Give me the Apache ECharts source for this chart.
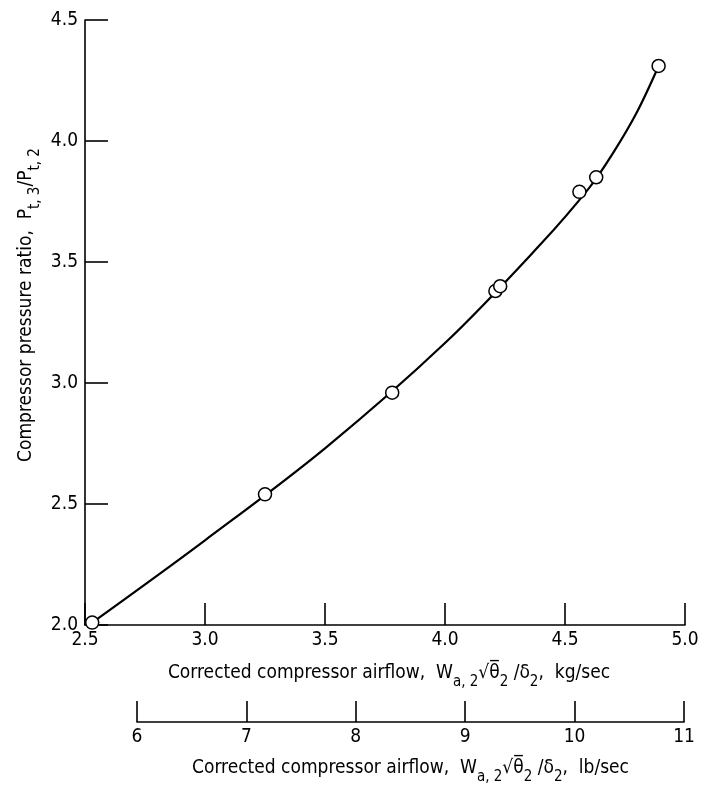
<!DOCTYPE html>
<html>
<head>
<meta charset="utf-8">
<script src="https://cdn.jsdelivr.net/npm/echarts@6/dist/echarts.min.js"></script>
<style>html,body{margin:0;padding:0;background:#fff;}#chart{width:705px;height:793px;}</style>
</head>
<body>
<div id="chart"></div>
<script>
// Measured data points (kg/sec, pressure ratio)
var pointsX = [2.53, 3.25, 3.78, 4.21, 4.23, 4.56, 4.63, 4.89];
var pointsY = [2.01, 2.54, 2.96, 3.38, 3.40, 3.79, 3.85, 4.31];
// Faired curve
var curveX = [2.53, 3.0, 3.5, 4.0, 4.4, 4.6, 4.7, 4.8, 4.89];
var curveY = [2.01, 2.35, 2.73, 3.165, 3.575, 3.805, 3.95, 4.12, 4.31];
// Axis ticks
var kgTicks = [2.5, 3.0, 3.5, 4.0, 4.5, 5.0];
var lbTicks = [6, 7, 8, 9, 10, 11];
var ratioTicks = [2.0, 2.5, 3.0, 3.5, 4.0, 4.5];

var FONT = "'Liberation Sans Narrow', 'DejaVu Sans Condensed', 'Roboto', sans-serif";
var chart = echarts.init(document.getElementById('chart'), null, {renderer: 'canvas'});

function zip(a, b) { return a.map(function (v, i) { return [v, b[i]]; }); }

var sub = {fontFamily: FONT, fontSize: 15, color: '#000', verticalAlign: 'bottom', padding: [0, 0, -7, 0]};
var base = {fontFamily: FONT, fontSize: 19, color: '#000'};

function xTitle(unit) {
  return {
    text: '{b|Corrected compressor airflow,  W}{s|a, 2}{b|\u221A\u03B8\u0305}{s|2}{b| /\u03B4}{s|2}{b|,  ' + unit + '}',
    rich: {b: base, s: sub}
  };
}

var kgT = xTitle('kg/sec');
var lbT = xTitle('lb/sec');

var option = {
  backgroundColor: '#fff',
  animation: false,
  grid: [
    {left: 85, top: 20, width: 600, height: 605, containLabel: false},
    {left: 137, top: 700, width: 547, height: 22, containLabel: false}
  ],
  xAxis: [
    {
      type: 'value', gridIndex: 0, min: kgTicks[0], max: kgTicks[kgTicks.length - 1], interval: 0.5,
      axisLine: {lineStyle: {color: '#000', width: 1.6}},
      axisTick: {inside: true, length: 22, lineStyle: {color: '#000', width: 1.6}},
      splitLine: {show: false},
      axisLabel: {margin: 6, fontFamily: FONT, fontSize: 19, color: '#000',
        formatter: function (v) { return v.toFixed(1); }},
      name: kgT.text, nameLocation: 'middle', nameGap: 39,
      nameTextStyle: {rich: kgT.rich, fontFamily: FONT, fontSize: 19, color: '#000', padding: [0, 0, 0, 8]}
    },
    {
      type: 'value', gridIndex: 1, min: lbTicks[0], max: lbTicks[lbTicks.length - 1], interval: 1,
      position: 'bottom',
      axisLine: {lineStyle: {color: '#000', width: 1.6}},
      axisTick: {inside: true, length: 21, lineStyle: {color: '#000', width: 1.6}},
      splitLine: {show: false},
      axisLabel: {margin: 6, fontFamily: FONT, fontSize: 19, color: '#000'},
      name: lbT.text, nameLocation: 'middle', nameGap: 37,
      nameTextStyle: {rich: lbT.rich, fontFamily: FONT, fontSize: 19, color: '#000'}
    }
  ],
  yAxis: [
    {
      type: 'value', gridIndex: 0, min: ratioTicks[0], max: ratioTicks[ratioTicks.length - 1], interval: 0.5,
      axisLine: {lineStyle: {color: '#000', width: 1.6}},
      axisTick: {inside: true, length: 23, lineStyle: {color: '#000', width: 1.6}},
      splitLine: {show: false},
      axisLabel: {margin: 7, fontFamily: FONT, fontSize: 19, color: '#000',
        formatter: function (v) { return v.toFixed(1); }}
    },
    {type: 'value', gridIndex: 1, show: false, min: 0, max: 1}
  ],
  graphic: [
    {
      type: 'text', x: 26, y: 305, rotation: Math.PI / 2,
      style: {
        text: '{b|Compressor pressure ratio,  P}{s|t, 3}{b|/P}{s|t, 2}',
        rich: {b: base, s: sub},
        align: 'center', verticalAlign: 'middle'
      }
    }
  ],
  series: [
    {
      type: 'line', xAxisIndex: 0, yAxisIndex: 0, data: zip(curveX, curveY),
      smooth: 0.35, showSymbol: false, symbol: 'none',
      lineStyle: {color: '#000', width: 2.2}, z: 2
    },
    {
      type: 'scatter', xAxisIndex: 0, yAxisIndex: 0, data: zip(pointsX, pointsY),
      symbol: 'circle', symbolSize: 13,
      itemStyle: {color: '#fff', borderColor: '#000', borderWidth: 1.5, opacity: 1}, z: 3
    }
  ]
};
chart.setOption(option);
</script>
</body>
</html>
